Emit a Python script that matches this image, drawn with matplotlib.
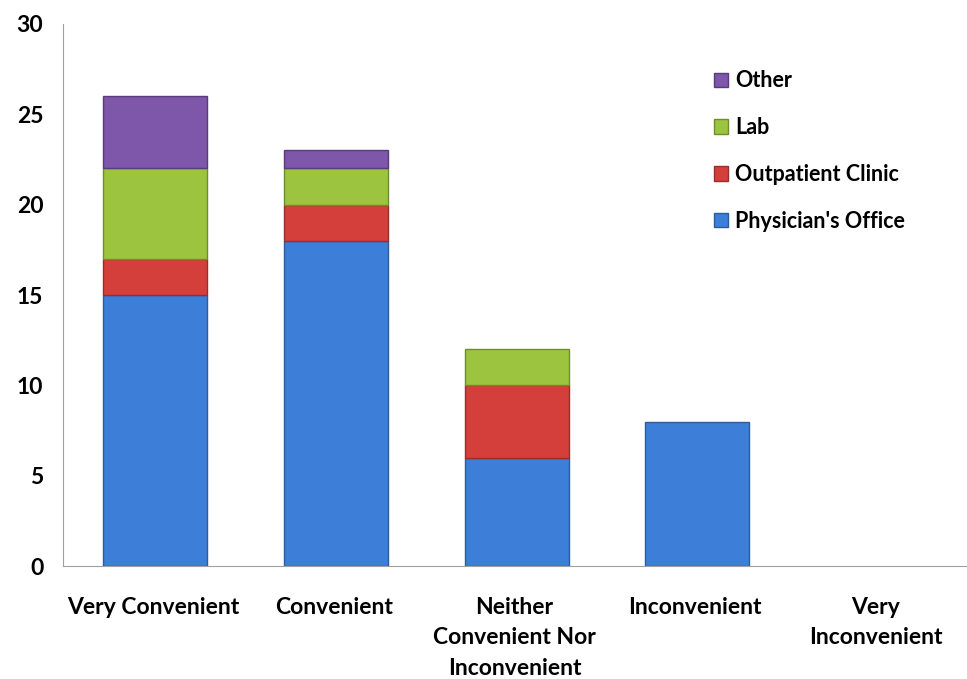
import matplotlib
matplotlib.use('Agg')
import matplotlib.pyplot as plt
import numpy as np

# categories and series
categories = ['Very Convenient', 'Convenient', 'Neither\nConvenient Nor\nInconvenient',
              'Inconvenient', 'Very\nInconvenient']
physician = [15, 18, 6, 8, 0]
outpatient = [2, 2, 4, 0, 0]
lab = [5, 2, 2, 0, 0]
other = [4, 1, 0, 0, 0]

series_names = ["Physician's Office", 'Outpatient Clinic', 'Lab', 'Other']
series = [physician, outpatient, lab, other]
colors = ['#3D7ED8', '#D43F3C', '#9CC43F', '#7E56AA']
edges = ['#2B5C9E', '#9A2C2A', '#6F8E2A', '#5A3C7C']

plt.rcParams['font.family'] = ['Lato', 'DejaVu Sans']
plt.rcParams['font.weight'] = 'bold'

fig = plt.figure(figsize=(9.67, 6.79), dpi=100)
ax = fig.add_axes([0.065, 0.166, 0.934, 0.799])

x = np.arange(len(categories))
bottom = np.zeros(len(categories))
handles = []
for name, vals, c, e in zip(series_names, series, colors, edges):
    vals = np.array(vals, dtype=float)
    lw = [1.0 if v > 0 else 0 for v in vals]
    b = ax.bar(x + 0.012, vals, 0.575, bottom=bottom, color=c, edgecolor=e, linewidth=lw, label=name)
    handles.append(b)
    bottom += vals

ax.set_xlim(-0.5, 4.5)
ax.set_ylim(0, 30)
ax.set_yticks(range(0, 31, 5))
ax.set_xticks(x)
ax.set_xticklabels(categories, fontsize=16.5, fontweight='bold', linespacing=1.55)
ax.tick_params(axis='y', labelsize=16.5, length=0, pad=14)
ax.tick_params(axis='x', length=0, pad=22)
for lab_ in ax.get_yticklabels():
    lab_.set_fontweight('bold')

ax.spines['top'].set_visible(False)
ax.spines['right'].set_visible(False)
ax.spines['left'].set_color('#A0A0A0')
ax.spines['bottom'].set_color('#A0A0A0')

leg = ax.legend(handles[::-1], series_names[::-1], loc='upper left', bbox_to_anchor=(0.7, 0.95),
                frameon=False, labelspacing=1.2, handlelength=0.65, handleheight=0.65,
                handletextpad=0.3, prop={'weight': 'bold', 'size': 15.5})

fig.savefig('out.png', dpi=100)
